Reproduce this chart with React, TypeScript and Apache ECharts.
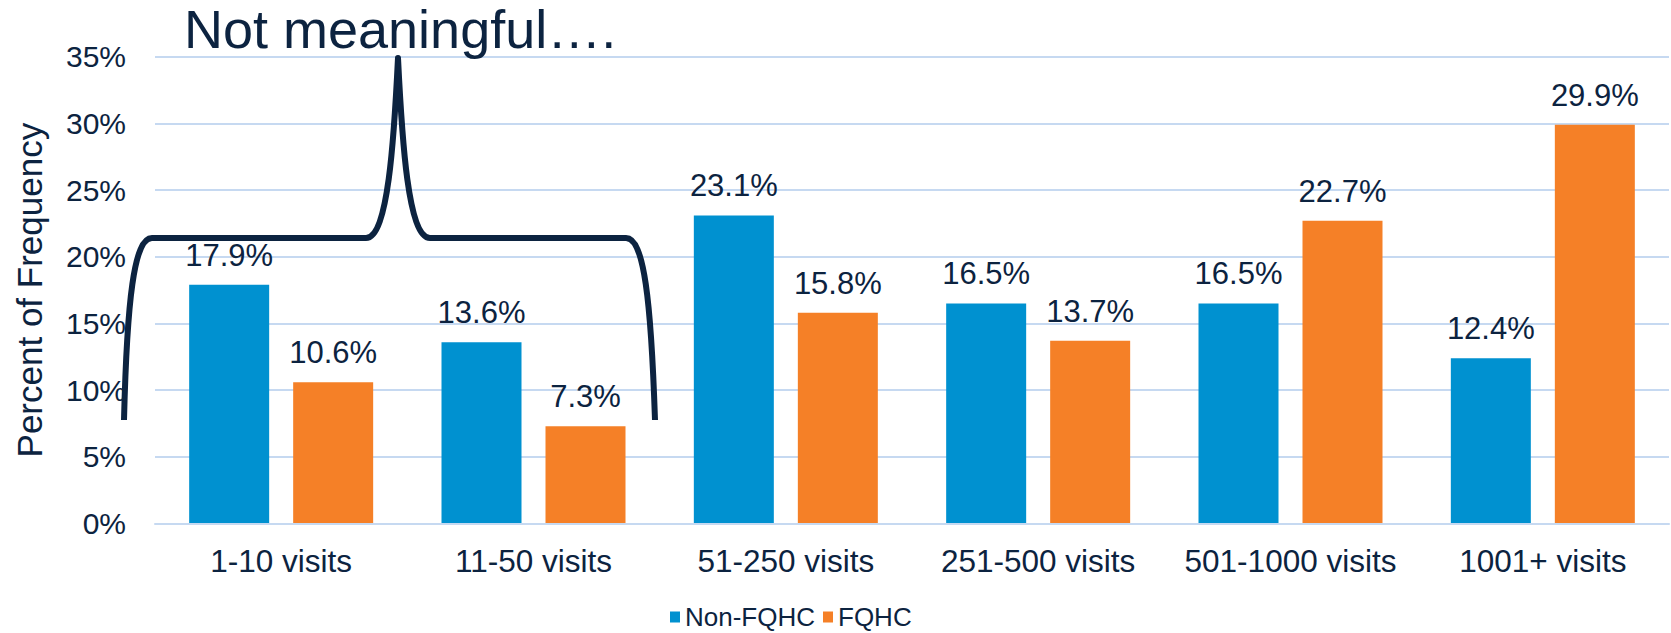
import React, { useEffect, useRef } from "react";
import * as echarts from "echarts";

const categories = ["1-10 visits", "11-50 visits", "51-250 visits", "251-500 visits", "501-1000 visits", "1001+ visits"];
const seriesNames = ["Non-FQHC", "FQHC"];
const nonFqhcValues = [17.9, 13.6, 23.1, 16.5, 16.5, 12.4];
const fqhcValues = [10.6, 7.3, 15.8, 13.7, 22.7, 29.9];
const yMin = 0;
const yMax = 35;
const yStep = 5;
const annotationText = "Not meaningful\u2026.";
const yAxisTitle = "Percent of Frequency";

const NAVY = "#0c2340";
const BLUE = "#0091d0";
const ORANGE = "#f58027";
const GRID = "#c6d9f1";
const FONT = "'Liberation Sans', Arial, sans-serif";

// curly brace annotation outline (page pixels)
const BRACE_D =
  "M124,420 C127,300 134,238 152,238 L366,238 C388,238 394,140 398,58 C402,140 408,238 430,238 L626,238 C644,238 651,300 655,420";
echarts.graphic.registerShape("brace", echarts.graphic.extendPath(BRACE_D, {}));

export default function App() {
  const ref = useRef<HTMLDivElement>(null);
  useEffect(() => {
    if (!ref.current) return;
    const chart = echarts.init(ref.current, undefined, { renderer: "svg" });
    const label = {
      show: true,
      position: "top",
      distance: 14,
      color: NAVY,
      fontSize: 31,
      fontFamily: FONT,
      formatter: (p: any) => p.value.toFixed(1) + "%",
    };
    chart.setOption({
      animation: false,
      backgroundColor: "#ffffff",
      textStyle: { fontFamily: FONT },
      title: {
        text: annotationText,
        left: 184,
        top: 2,
        padding: 0,
        textStyle: { color: NAVY, fontSize: 54, fontWeight: "normal", fontFamily: FONT },
      },
      grid: { left: 155, right: 2, top: 56.7, bottom: 109.4, containLabel: false },
      legend: {
        data: seriesNames,
        left: 665,
        top: 599,
        icon: "rect",
        itemWidth: 10,
        itemHeight: 11,
        itemGap: 8,
        textStyle: { color: NAVY, fontSize: 26, fontFamily: FONT },
      },
      xAxis: {
        type: "category",
        data: categories,
        z: 5,
        axisLine: { show: true, lineStyle: { color: GRID, width: 2 } },
        axisTick: { show: false },
        axisLabel: { color: NAVY, fontSize: 31.5, fontFamily: FONT, margin: 21, interval: 0 },
      },
      yAxis: {
        type: "value",
        min: yMin,
        max: yMax,
        interval: yStep,
        name: yAxisTitle,
        nameLocation: "middle",
        nameGap: 108,
        nameTextStyle: { color: NAVY, fontSize: 35, fontFamily: FONT },
        axisLine: { show: false },
        axisTick: { show: false },
        splitLine: { lineStyle: { color: GRID, width: 2 } },
        axisLabel: { color: NAVY, fontSize: 30, fontFamily: FONT, margin: 29, formatter: "{value}%" },
      },
      series: [
        {
          name: seriesNames[0],
          type: "bar",
          data: nonFqhcValues,
          barWidth: 80,
          barGap: "30%",
          itemStyle: { color: BLUE },
          label,
        },
        {
          name: seriesNames[1],
          type: "bar",
          data: fqhcValues,
          barWidth: 80,
          barGap: "30%",
          itemStyle: { color: ORANGE },
          label,
        },
      ],
      graphic: [
        {
          type: "brace",
          x: 0,
          y: 0,
          z: 100,
          silent: true,
          style: { fill: "none", stroke: NAVY, lineWidth: 6, lineJoin: "round", lineCap: "butt" },
        },
      ],
    });
    return () => chart.dispose();
  }, []);
  return <div ref={ref} style={{ position: "absolute", left: 0, top: 0, width: 1671, height: 633 }} />;
}
